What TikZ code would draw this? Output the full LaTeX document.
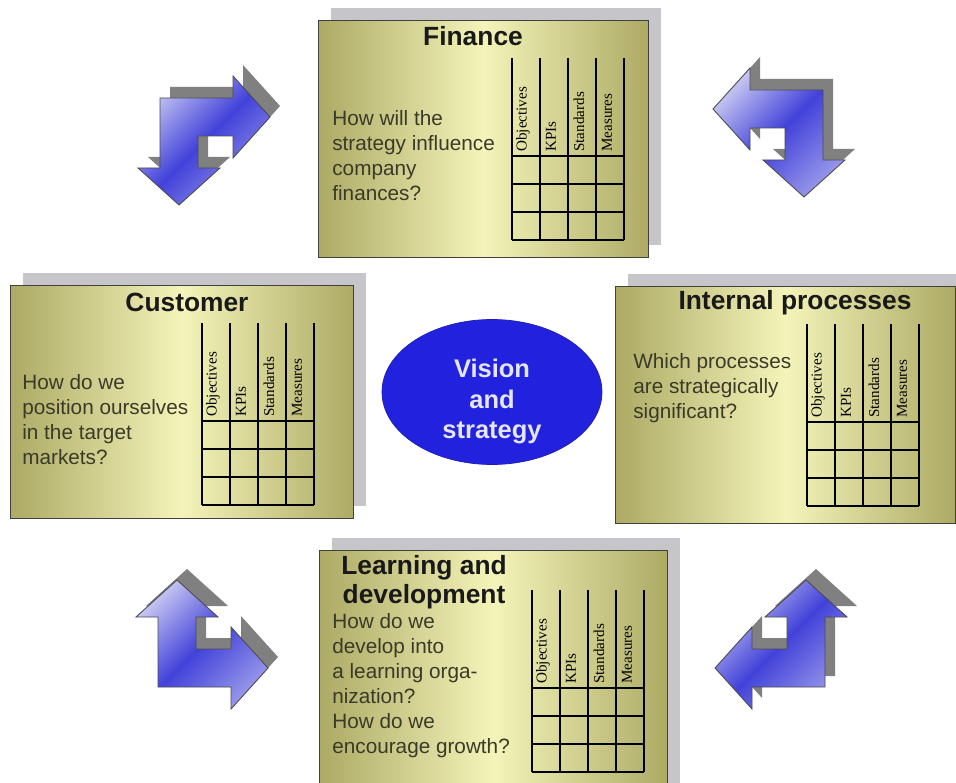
\documentclass[tikz,border=0pt]{standalone}
\usepackage{fontspec}
\setmainfont{Liberation Sans}
\newfontfamily\labelfont{Liberation Serif}
\usetikzlibrary{positioning, shapes.geometric, shadows}

\definecolor{panelDark}{RGB}{172,170,100}
\definecolor{panelLight}{RGB}{244,244,186}
\definecolor{panelShade}{RGB}{198,198,202}
\definecolor{textOlive}{RGB}{58,58,40}
\definecolor{visionBlue}{RGB}{34,34,222}
\definecolor{arrowLight}{RGB}{196,196,242}
\definecolor{arrowPale}{RGB}{150,150,234}
\definecolor{arrowDeep}{RGB}{66,66,218}
\definecolor{arrowShade}{RGB}{128,128,128}

% KPI grid: name, left x, top y (px)
\newcommand{\kpigrid}[3]{%
  \foreach \col in {0,...,4}
    \draw[gridline] ({#2+28*\col},#3) -- ++(0,182);
  \foreach \rowy in {98,126,154,182}
    \draw[gridline] (#2,{#3+\rowy}) -- ++(112,0);
  \foreach \lab [count=\i from 0] in {Objectives,KPIs,Standards,Measures}
    \node[collabel] (#1-\i) at ({#2+11+28*\i},{#3+94}) {\lab};
}

\tikzset{
  bentarrow/.pic={
    \path[#1] (0,0) -- (73,0) -- (73,-22) -- (110,19) -- (73,60) -- (73,38)
      -- (38,38) -- (38,70) -- (60,70) -- (19,107) -- (-22,70) -- (0,70) -- cycle;
  }
}

\begin{document}
\begin{tikzpicture}[
        x=0.02cm, y=-0.02cm,
        panel/.style={
            draw=black!75,
            line width=0.8pt,
            left color=panelDark,
            right color=panelDark,
            middle color=panelLight,
            anchor=north west,
            general shadow={fill=panelShade, shadow xshift=0.24cm, shadow yshift=0.26cm}
        },
        title/.style={
            font=\bfseries\fontsize{15}{16.5}\selectfont,
            text=black!90,
            inner sep=0pt,
            align=center
        },
        question/.style={
            font=\fontsize{11.8}{14.2}\selectfont,
            text=textOlive,
            inner sep=0pt,
            align=left,
            anchor=north west
        },
        collabel/.style={
            font=\labelfont\fontsize{8.6}{9}\selectfont,
            rotate=90,
            anchor=west,
            inner sep=0pt
        },
        gridline/.style={draw=black, line width=0.8pt},
        arrowbody/.style={
            draw=black!70,
            line width=0.5pt,
            left color=arrowLight,
            right color=arrowPale,
            middle color=arrowDeep,
            shading angle=45
        },
        arrowshadow/.style={fill=arrowShade}
    ]

    \useasboundingbox (0,0) rectangle (956,783);
    \fill[white] (0,0) rectangle (956,783);

    % bent arrows in the corners
    \foreach \nm/\cx/\cy/\sx/\sy in {tl/160/98/1/1, tr/823/90/-1/1, bl/158/687/1/-1, br/825/687/-1/-1} {
        \pic[xscale=\sx, yscale=\sy] (\nm-shade) at ({\cx+10},{\cy-11}) {bentarrow=arrowshadow};
        \pic[xscale=\sx, yscale=\sy] (\nm) at (\cx,\cy) {bentarrow=arrowbody};
    }

    % perspective panels
    \node[panel, minimum width=6.6cm,  minimum height=4.74cm] (finance)  at (318,20)  {};
    \node[panel, minimum width=6.86cm, minimum height=4.66cm] (customer) at (10,285)  {};
    \node[panel, minimum width=6.8cm,  minimum height=4.74cm] (internal) at (615,286) {};
    \node[panel, minimum width=6.96cm, minimum height=4.9cm]  (learning) at (319,550) {};

    \node[title, anchor=base] (financeT)  at (473,46)  {Finance};
    \node[title, anchor=base] (customerT) at (187,312) {Customer};
    \node[title, anchor=base] (internalT) at (795,310) {Internal processes};
    \node[title, anchor=north] (learningT) at (424,555) {Learning and\\development};

    \node[question] (financeQ)  at (332,110) {How will the\\strategy influence\\company\\finances?};
    \node[question] (customerQ) at (22,374)  {How do we\\position ourselves\\in the target\\markets?};
    \node[question] (internalQ) at (633,353) {Which processes\\are strategically\\significant?};
    \node[question] (learningQ) at (332,613) {How do we\\develop into\\a learning orga-\\nization?\\How do we\\encourage growth?};

    \kpigrid{financeG}{512}{58}
    \kpigrid{customerG}{202}{323}
    \kpigrid{internalG}{807}{324}
    \kpigrid{learningG}{532}{590}

    % centre
    \node[ellipse, fill=visionBlue, draw=visionBlue!80!black, line width=0.4pt,
          minimum width=4.4cm, minimum height=2.9cm] (vision) at (492,392) {};
    \node[align=center, inner sep=0pt, text=white!90!blue,
          font=\bfseries\fontsize{14.5}{17.5}\selectfont]
          (visionT) at ([yshift=-0.19cm]vision.center) {Vision\\and\\strategy};

\end{tikzpicture}
\end{document}
